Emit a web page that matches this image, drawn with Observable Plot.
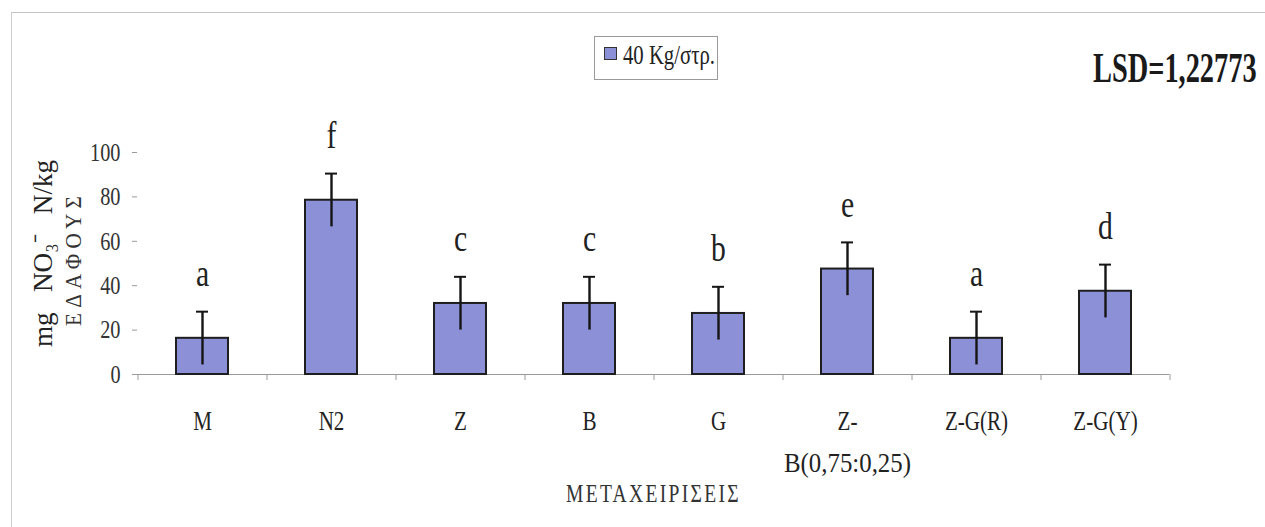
<!DOCTYPE html>
<html><head><meta charset="utf-8">
<script src="https://cdn.jsdelivr.net/npm/d3@7"></script>
<script src="https://cdn.jsdelivr.net/npm/@observablehq/plot@0.6"></script>
<style>
body{margin:0;background:#fff;}
#wrap{position:relative;width:1265px;height:527px;overflow:hidden;font-family:"Liberation Serif","Times New Roman",serif;color:#222;}
#frame{position:absolute;left:11px;top:12px;width:1270px;height:530px;border-left:1.5px solid #cfcfcf;border-top:1.5px solid #c4c4c4;}
#legend{position:absolute;left:594px;top:36px;width:124px;height:44px;border:1px solid #9a9a9a;box-sizing:border-box;background:#fff;}
#legend .sw{position:absolute;left:9px;top:10px;width:11px;height:11px;background:#8C90D6;border:1.5px solid #333;}
#legend .lt{position:absolute;left:28px;top:3px;font-size:28px;line-height:30px;white-space:nowrap;transform:scaleX(0.74);transform-origin:0 0;}
#lsd{position:absolute;left:1093px;top:45px;font-size:43px;font-weight:bold;line-height:46px;white-space:nowrap;transform:scaleX(0.66);transform-origin:0 0;color:#1a1a1a;}
#chart{position:absolute;left:0;top:0;}
#chart svg text{font-family:"Liberation Serif","Times New Roman",serif !important;}
</style></head>
<body>
<div id="wrap">
  <div id="frame"></div>
  <div id="chart"></div>
  <div id="legend"><div class="sw"></div><div class="lt">40 Kg/στρ.</div></div>
  <div id="lsd">LSD=1,22773</div>
</div>
<script>
const categories = ["M","N2","Z","B","G","Z-\nB(0,75:0,25)","Z-G(R)","Z-G(Y)"];
const means = [16.3, 78.5, 32, 32, 27.5, 47.5, 16.3, 37.5];
const errors = [12, 12, 12, 12, 12, 12, 12, 12];
const letters = ["a","f","c","c","b","e","a","d"];
const yTicks = [0, 20, 40, 60, 80, 100];
const yLabel1 = "mg NO\u2083\u207B N/kg";
const yLabel2 = "ΕΔΑΦΟΥΣ";
const xTitle = "ΜΕΤΑΧΕΙΡΙΣΕΙΣ";

const data = categories.map((c, i) => ({cat: c, mean: means[i], err: errors[i], letter: letters[i]}));

const W = 1265, H = 527, mL = 137, mR = 96, mT = 152, mB = 153;
const step = (W - mL - mR) / categories.length;
const axisGray = "#9a9a9a";

const chart = Plot.plot({
  width: W, height: H,
  marginLeft: mL, marginRight: mR, marginTop: mT, marginBottom: mB,
  style: {fontFamily: "Liberation Serif, serif", background: "transparent", color: "#222"},
  x: {domain: categories, paddingInner: 0.6, paddingOuter: 0.3, align: 0.5},
  y: {domain: [0, 100]},
  marks: [
    Plot.axisY({ticks: yTicks, tickSize: 5, tickPadding: 12, label: null, fontSize: 26, stroke: axisGray, fill: "#333", line: true}),
    Plot.ruleY([0], {stroke: axisGray, strokeWidth: 1.2}),
    Plot.axisX({ticks: categories, tickSize: 6, tickFormat: () => "", label: null, dx: -step / 2, stroke: axisGray}),
    Plot.axisX({ticks: [categories[categories.length - 1]], tickSize: 6, tickFormat: () => "", label: null, dx: step / 2, stroke: axisGray}),
    Plot.barY(data, {x: "cat", y: "mean", fill: "#8C90D6", stroke: "#1e1e1e", strokeWidth: 2}),
    Plot.ruleX(data, {x: "cat", y1: d => d.mean - d.err, y2: d => d.mean + d.err, stroke: "#151515", strokeWidth: 2.4}),
    Plot.tickY(data, {x: "cat", y: d => d.mean + d.err, stroke: "#151515", strokeWidth: 2, insetLeft: 20, insetRight: 20}),
    Plot.text(data, {x: "cat", y: d => d.mean + d.err, text: "letter", dy: -38, fontSize: 38, fill: "#222"}),
    Plot.text(categories, {x: d => d, text: d => d, frameAnchor: "bottom", lineAnchor: "top", dy: 26, fontSize: 27, lineHeight: 1.55, fill: "#222"}),
    Plot.text([xTitle], {frameAnchor: "bottom", dy: 127, fontSize: 25, fill: "#333"}),
    Plot.text([yLabel1], {frameAnchor: "left", textAnchor: "middle", rotate: -90, dx: -94, dy: -10, fontSize: 28, fill: "#222"}),
    Plot.text([yLabel2], {frameAnchor: "left", textAnchor: "middle", rotate: -90, dx: -64, dy: -5, fontSize: 24, fill: "#333"})
  ]
});
document.getElementById("chart").appendChild(chart);

// spacing for the Greek titles and the y label
chart.querySelectorAll("text").forEach(t => {
  if (t.textContent === xTitle) t.style.letterSpacing = "3px";
  if (t.textContent === yLabel2) t.style.letterSpacing = "6px";
  if (t.textContent === yLabel1) t.style.wordSpacing = "14px";
});
// condense serif glyphs to mimic the narrow typeface
function condense(el, f) {
  const len = el.getComputedTextLength();
  if (len > 0) { el.setAttribute("textLength", (len * f).toFixed(1)); el.setAttribute("lengthAdjust", "spacingAndGlyphs"); }
}
chart.querySelectorAll("text").forEach(t => {
  const spans = t.querySelectorAll("tspan");
  let f = 0.78;
  if (t.textContent === yLabel1) f = 0.97;
  if (t.textContent === yLabel2) f = 0.88;
  if (spans.length) spans.forEach(s => condense(s, s.textContent.startsWith("B(") ? 0.92 : f));
  else condense(t, f);
});
</script>
</body></html>
